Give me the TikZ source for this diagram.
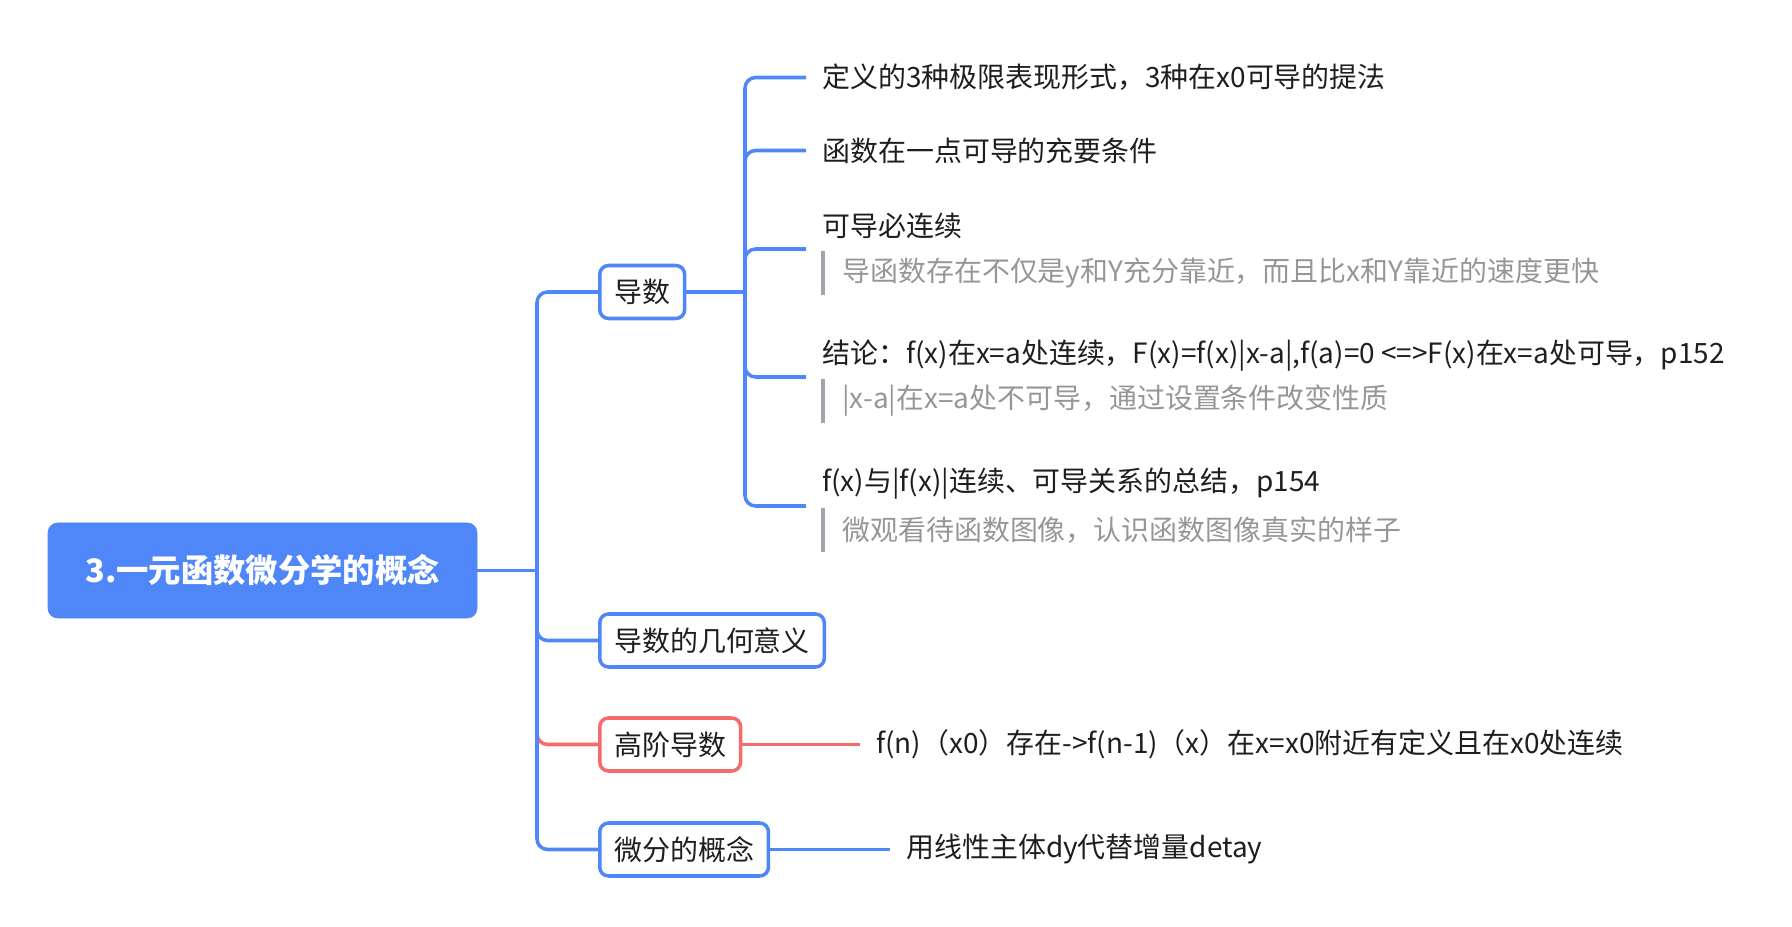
\documentclass[tikz,border=0pt]{standalone}
\usepackage{fontspec}
\setmainfont{Noto Sans CJK SC}
\usetikzlibrary{positioning}
\definecolor{xblue}{RGB}{80,135,248}
\definecolor{xred}{RGB}{245,107,107}
\definecolor{xgray}{RGB}{160,164,171}
\definecolor{xtext}{RGB}{30,30,30}
\definecolor{xnote}{RGB}{150,150,150}

\begin{document}
\begin{tikzpicture}[
        link/.style={draw=xblue, line width=2pt, rounded corners=6pt},
        redlink/.style={draw=xred, line width=2pt, rounded corners=6pt},
        root/.style={draw=xblue, fill=xblue, rounded corners=5.5pt, text=white, font=\fontsize{18.4}{22}\selectfont\bfseries, minimum width=8.58cm, minimum height=1.9cm},
        topic/.style={draw=xblue, line width=2pt, fill=white, rounded corners=5pt, text=xtext, font=\fontsize{15.9}{19}\selectfont, minimum height=1.06cm, inner xsep=0.29cm, anchor=west},
        leaf/.style={text=xtext, font=\fontsize{15.9}{19}\selectfont, inner xsep=0.32cm, inner ysep=0pt, anchor=west},
        note/.style={text=xnote, font=\fontsize{15.9}{19}\selectfont, inner xsep=0.38cm, minimum height=0.86cm, anchor=west},
        notebar/.style={draw=xgray, line width=2pt}
    ]
    \useasboundingbox (0, 0) rectangle (35.84, 18.52);

    % --- Root ---
    \node[root] (root) at (5.25, 7.11) {3.一元函数微分学的概念};
    \coordinate (hub) at (10.74, 7.11);

    % --- Level 1 ---
    \node[topic] (deriv) at (11.96, 12.68) {导数};
    \node[topic] (geo) at (11.96, 5.71) {导数的几何意义};
    \node[topic, draw=xred] (higher) at (11.96, 3.63) {高阶导数};
    \node[topic] (diff) at (11.96, 1.53) {微分的概念};

    % --- Level 2: Derivative ---
    \coordinate (subhub) at (14.90, 12.68);
    \node[leaf] (limit) at (16.12, 16.97) {定义的3种极限表现形式，3种在x0可导的提法};
    \node[leaf] (iff) at (16.12, 15.51) {函数在一点可导的充要条件};

    \node[leaf] (cont) at (16.12, 14.00) {可导必连续};
    \node[note] (contnote) at (16.46, 13.06) {导函数存在不仅是y和Y充分靠近，而且比x和Y靠近的速度更快};
    \coordinate (contin) at (16.12, 13.54);

    \node[leaf] (concl) at (16.12, 11.40) {结论：f(x)在x=a处连续，F(x)=f(x)|x-a|,f(a)=0 <=>F(x)在x=a处可导，p152};
    \node[note] (conclnote) at (16.46, 10.50) {|x-a|在x=a处不可导，通过设置条件改变性质};
    \coordinate (conclin) at (16.12, 10.98);

    \node[leaf] (absval) at (16.12, 8.84) {f(x)与|f(x)|连续、可导关系的总结，p154};
    \node[note] (absnote) at (16.46, 7.92) {微观看待函数图像，认识函数图像真实的样子};
    \coordinate (absin) at (16.12, 8.40);

    % --- Level 2: other branches ---
    \node[leaf] (higherleaf) at (17.20, 3.63) {f(n)（x0）存在->f(n-1)（x）在x=x0附近有定义且在x0处连续};
    \node[leaf] (diffleaf) at (17.80, 1.53) {用线性主体dy代替增量detay};

    % --- Edges: Root ---
    \coordinate (redfork) at (10.74, 4.2);
    \draw[redlink] (redfork) |- (higher.west);
    \draw[link] (root.east) -- (hub);
    \draw[link] (hub) |- (deriv.west);
    \draw[link] (hub) |- (geo.west);
    \draw[link] (hub) |- (diff.west);

    % --- Edges: Derivative ---
    \draw[link] (deriv.east) -- (subhub);
    \draw[link] (subhub) |- (limit.west);
    \draw[link] (subhub) |- (iff.west);
    \draw[link] (subhub) |- (contin);
    \draw[link] (subhub) |- (conclin);
    \draw[link] (subhub) |- (absin);

    % --- Notes ---
    \draw[notebar] (contnote.north west) -- (contnote.south west);
    \draw[notebar] (conclnote.north west) -- (conclnote.south west);
    \draw[notebar] (absnote.north west) -- (absnote.south west);

    % --- Edges: Leaves ---
    \draw[redlink] (higher.east) -- (higherleaf.west);
    \draw[link] (diff.east) -- (diffleaf.west);

\end{tikzpicture}
\end{document}
